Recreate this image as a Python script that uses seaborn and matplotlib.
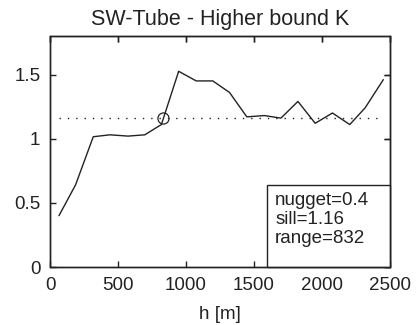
import matplotlib
matplotlib.use("Agg")
import matplotlib.pyplot as plt
from matplotlib.patches import Rectangle
import seaborn as sns
import pandas as pd

h = [66, 188, 318, 440, 574, 697, 819, 946, 1075, 1197, 1320, 1447, 1576,
     1698, 1823, 1950, 2077, 2204, 2317, 2451]
gamma = [0.40, 0.64, 1.015, 1.03, 1.02, 1.03, 1.11, 1.525, 1.45, 1.45, 1.36,
         1.17, 1.18, 1.16, 1.29, 1.12, 1.20, 1.11, 1.24, 1.46]
nugget = 0.4
sill = 1.16
rng = 832
xticks = [0, 500, 1000, 1500, 2000, 2500]
yticks = [0, 0.5, 1, 1.5]
ytick_labels = ["0", "0.5", "1", "1.5"]

sns.set_style("white")
plt.rcParams['font.family'] = ['Liberation Sans', 'DejaVu Sans']

C = "#222222"
df = pd.DataFrame({"h": h, "gamma": gamma})
fig = plt.figure(figsize=(4.16, 3.25), dpi=100)
ax = fig.add_axes([50/416, 1-267/325, 340/416, 231/325])

sns.lineplot(data=df, x="h", y="gamma", ax=ax, color=C, linewidth=1.0)
ax.plot([h[0], h[-1]], [sill, sill], linestyle=(0, (1, 5)), color=C, linewidth=1.0)
ax.plot([rng], [sill], marker="o", markersize=8, markerfacecolor="none",
        markeredgecolor=C, markeredgewidth=0.9)

ax.set_xlim(0, 2500)
ax.set_ylim(0, 1.8)
ax.set_xticks(xticks)
ax.set_yticks(yticks)
ax.set_yticklabels(ytick_labels)
ax.tick_params(direction="in", length=4, bottom=True, left=True, top=True,
               right=True, labelsize=13.5, colors=C, width=1.0, pad=7)
for side in ["top", "right", "bottom", "left"]:
    sp = ax.spines[side]
    sp.set_visible(True)
    sp.set_color(C)
    sp.set_linewidth(1.0)

# full frame (top/right edges) drawn explicitly
ax.add_patch(Rectangle((0, 0), 1, 1, transform=ax.transAxes, fill=False,
                       edgecolor=C, linewidth=1.0, zorder=7, clip_on=False))
secx = ax.secondary_xaxis("top")
secx.set_xticks(xticks)
secx.tick_params(direction="in", length=4, width=1.0, colors=C, labeltop=False)
secy = ax.secondary_yaxis("right")
secy.set_yticks(yticks)
secy.tick_params(direction="in", length=4, width=1.0, colors=C, labelright=False)

ax.set_xlabel("h [m]", fontsize=13.5, color=C, labelpad=9)
ax.set_ylabel("")
ax.set_title("SW-Tube - Higher bound K", fontsize=15.5, color=C, pad=8)

ax.add_patch(Rectangle((0.639, 0.0), 0.361, 0.355, transform=ax.transAxes,
                       facecolor="white", edgecolor=C, linewidth=1.0, zorder=5,
                       clip_on=False))
ax.text(0.662, 0.325, f"nugget={nugget}\nsill={sill}\nrange={rng}",
        transform=ax.transAxes, fontsize=13.5, color=C,
        va="top", ha="left", linespacing=1.15, zorder=6)

fig.savefig("out.png", dpi=100)
